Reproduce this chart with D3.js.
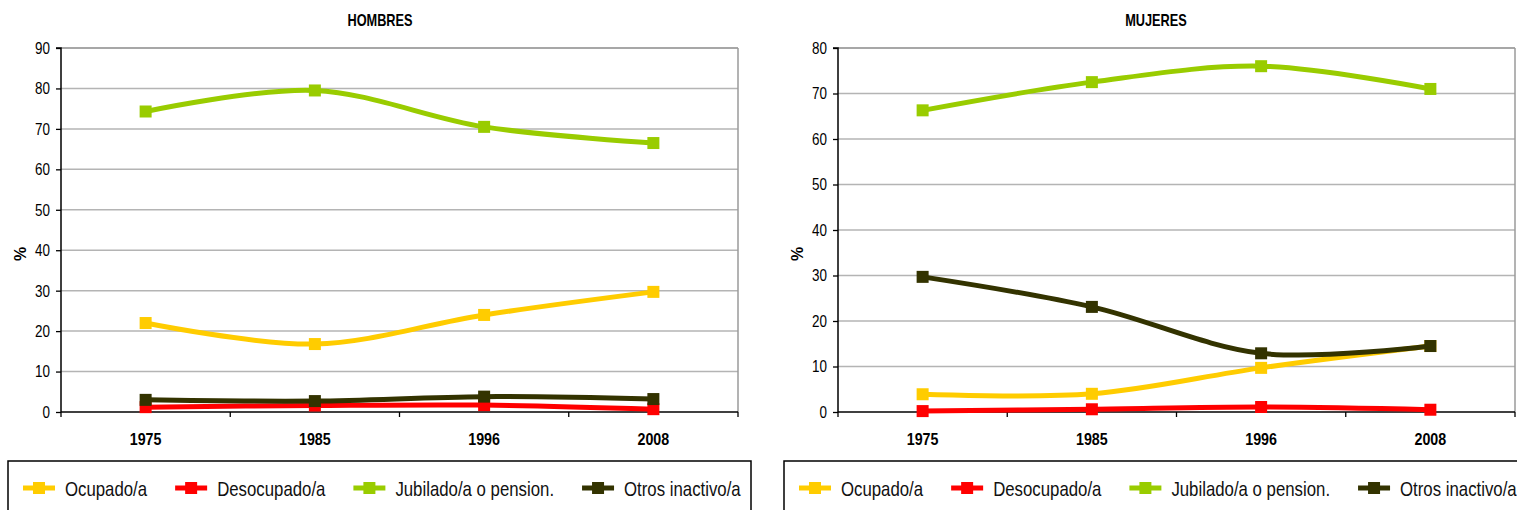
<!DOCTYPE html>
<html>
<head>
<meta charset="utf-8">
<script src="https://cdn.jsdelivr.net/npm/d3@7/dist/d3.min.js"></script>
<style>
  html, body { margin: 0; padding: 0; background: #fff; }
  svg { display: block; font-family: "Liberation Sans", Arial, sans-serif; }
</style>
</head>
<body>
<svg id="chart" width="1517" height="510"></svg>
<script>
// Categories and tick labels
const years = ["1975", "1985", "1996", "2008"];
const hombresTicks = [0, 10, 20, 30, 40, 50, 60, 70, 80, 90];
const mujeresTicks = [0, 10, 20, 30, 40, 50, 60, 70, 80];
const seriesNames = ["Ocupado/a", "Desocupado/a", "Jubilado/a o pension.", "Otros inactivo/a"];

// Percentages, men
const hombresOcupado    = [22.0, 16.8, 24.0, 29.7];
const hombresDesocupado = [1.2, 1.6, 1.7, 0.7];
const hombresJubilado   = [74.3, 79.5, 70.5, 66.5];
const hombresOtros      = [3.0, 2.7, 3.8, 3.2];

// Percentages, women
const mujeresOcupado    = [3.9, 4.0, 9.7, 14.5];
const mujeresDesocupado = [0.2, 0.6, 1.1, 0.5];
const mujeresJubilado   = [66.3, 72.5, 76.0, 71.0];
const mujeresOtros      = [29.7, 23.1, 12.9, 14.5];

const palette = ["#FFCC00", "#FF0000", "#99CC00", "#333300"];

const svg = d3.select("#chart");
svg.append("rect").attr("width", 1517).attr("height", 510).attr("fill", "#fff");

// Text in this chart is set slightly condensed
const SQUEEZE = 0.84;
function condensed(sel, x, y, k, rot) {
  sel.attr("transform", `translate(${x},${y})` + (rot ? ` rotate(${rot})` : "") + ` scale(${k},1)`);
  return sel;
}

function drawPanel(cfg) {
  const g = svg.append("g");
  const x = d3.scaleBand().domain(years).range([cfg.left, cfg.right]).padding(0);
  const y = d3.scaleLinear().domain([0, cfg.max]).range([412, 48]);
  const cx = d => x(d) + x.bandwidth() / 2;

  // horizontal gridlines
  g.append("g").selectAll("line").data(cfg.ticks.filter(t => t > 0)).join("line")
    .attr("x1", cfg.left).attr("x2", cfg.right)
    .attr("y1", d => y(d)).attr("y2", d => y(d))
    .attr("stroke", d => d === cfg.max ? "#8a8a8a" : "#b4b4b4")
    .attr("stroke-width", 1.5);
  // right frame
  g.append("line").attr("x1", cfg.right).attr("x2", cfg.right)
    .attr("y1", y(cfg.max)).attr("y2", y(0))
    .attr("stroke", "#9a9a9a").attr("stroke-width", 1.5);

  // y axis
  const yAxis = g.append("g").attr("transform", `translate(${cfg.left},0)`)
    .call(d3.axisLeft(y).tickValues(cfg.ticks).tickSize(5).tickPadding(6).tickFormat(d3.format("d")));
  yAxis.select(".domain").attr("stroke", "#000").attr("stroke-width", 1.5).attr("d", `M-5,${y(cfg.max)}H0V${y(0)}`);
  yAxis.selectAll(".tick line").attr("stroke", "#000").attr("stroke-width", 1.3);
  yAxis.selectAll(".tick text").each(function(d) {
    const t = d3.select(this);
    t.attr("x", null).attr("dy", null)
      .attr("font-size", 16).attr("fill", "#000")
      .attr("font-family", "'Liberation Sans', Arial, sans-serif")
      .attr("text-anchor", "end").attr("dominant-baseline", "central");
    condensed(t, -11, 0, SQUEEZE);
  });

  // x axis
  const xAxis = g.append("g").attr("transform", `translate(0,${y(0)})`);
  xAxis.append("line").attr("x1", cfg.left).attr("x2", cfg.right)
    .attr("stroke", "#000").attr("stroke-width", 1.5);
  const bounds = years.map(d => x(d)).concat([cfg.right]);
  xAxis.selectAll("line.tk").data(bounds).join("line").attr("class", "tk")
    .attr("x1", d => d).attr("x2", d => d).attr("y1", 0).attr("y2", 5)
    .attr("stroke", "#000").attr("stroke-width", 1.3);
  xAxis.selectAll("text").data(years).join("text")
    .attr("font-size", 17).attr("font-weight", "bold").attr("text-anchor", "middle")
    .text(d => d)
    .each(function(d) { condensed(d3.select(this), cx(d), 33, SQUEEZE); });

  // title and axis label
  condensed(g.append("text").attr("font-size", 17).attr("font-weight", "bold")
    .attr("text-anchor", "middle").text(cfg.title), cfg.titleX, 26, 0.75);
  g.append("text").attr("font-size", 16).attr("font-weight", "bold")
    .attr("text-anchor", "middle").attr("dominant-baseline", "central")
    .attr("transform", `translate(${cfg.left - 41},254) rotate(-90)`).text("%");

  // series lines with square markers
  const line = d3.line().x((v, i) => cx(years[i])).y(v => y(v)).curve(d3.curveCardinal.tension(0));
  cfg.series.forEach((vals, si) => {
    g.append("path").attr("d", line(vals)).attr("fill", "none")
      .attr("stroke", palette[si]).attr("stroke-width", 5).attr("stroke-linejoin", "round");
    g.append("g").selectAll("rect").data(vals).join("rect")
      .attr("x", (v, i) => cx(years[i]) - 6).attr("y", v => y(v) - 6)
      .attr("width", 12).attr("height", 12).attr("fill", palette[si]);
  });

  // legend
  const lg = svg.append("g");
  lg.append("rect").attr("x", cfg.legendX).attr("y", 461).attr("width", cfg.legendW).attr("height", 80)
    .attr("fill", "#fff").attr("stroke", "#000").attr("stroke-width", 1.5);
  let px = cfg.legendX + 15;
  seriesNames.forEach((name, si) => {
    lg.append("line").attr("x1", px).attr("x2", px + 32).attr("y1", 488).attr("y2", 488)
      .attr("stroke", palette[si]).attr("stroke-width", 5);
    lg.append("rect").attr("x", px + 10).attr("y", 482).attr("width", 12).attr("height", 12)
      .attr("fill", palette[si]);
    const t = lg.append("text").attr("font-size", 20).attr("fill", "#111").text(name);
    condensed(t, px + 42, 496, SQUEEZE);
    const w = t.node().getComputedTextLength() * SQUEEZE;
    px += 42 + w + 28;
  });
}

drawPanel({
  title: "HOMBRES", titleX: 380, left: 61, right: 738, max: 90, ticks: hombresTicks,
  series: [hombresOcupado, hombresDesocupado, hombresJubilado, hombresOtros],
  legendX: 8, legendW: 743
});
drawPanel({
  title: "MUJERES", titleX: 1156, left: 838, right: 1515, max: 80, ticks: mujeresTicks,
  series: [mujeresOcupado, mujeresDesocupado, mujeresJubilado, mujeresOtros],
  legendX: 784, legendW: 760
});
</script>
</body>
</html>
